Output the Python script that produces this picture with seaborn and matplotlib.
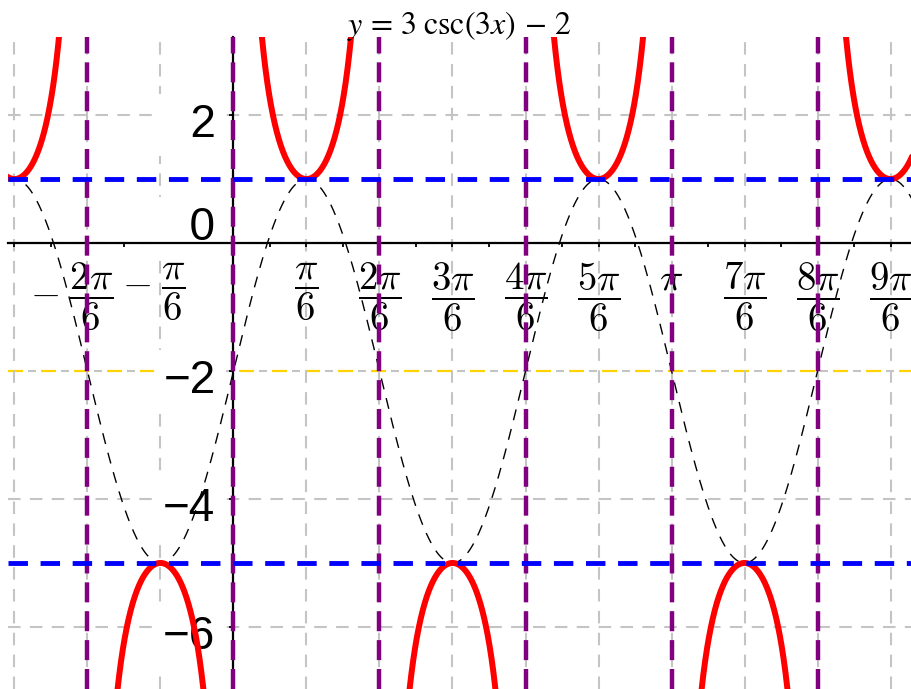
import numpy as np
import pandas as pd
import matplotlib
matplotlib.use("Agg")
import matplotlib.pyplot as plt
from matplotlib.transforms import ScaledTranslation
import seaborn as sns

# y = A * csc(B * x) + D
A = 3
B = 3
D = -2

# visible window
x_min, x_max = -1.617, 4.859
y_min, y_max = -6.97, 3.22

# x ticks in multiples of pi/6
x_tick_steps = [-3, -2, -1, 0, 1, 2, 3, 4, 5, 6, 7, 8, 9]
x_tick_labels = ["", r"$-\;\dfrac{2\pi}{6}$", r"$-\;\dfrac{\pi}{6}$", "",
                 r"$\dfrac{\pi}{6}$", r"$\dfrac{2\pi}{6}$", r"$\dfrac{3\pi}{6}$",
                 r"$\dfrac{4\pi}{6}$", r"$\dfrac{5\pi}{6}$", r"$\pi$",
                 r"$\dfrac{7\pi}{6}$", r"$\dfrac{8\pi}{6}$", r"$\dfrac{9\pi}{6}$"]
x_minor_steps = list(range(-6, 19))  # multiples of pi/12

y_ticks = [-6, -4, -2, 0, 2]
y_tick_labels = ["\u22126", "\u22124", "\u22122", "\u20070", "\u20072"]

# vertical asymptotes of csc(Bx): x = k*pi/B
asymptote_steps = [-1, 0, 1, 2, 3, 4]

# ---------------------------------------------------------------- data
branches = []
for k in range(-2, 6):
    lo = max(k * np.pi / B, x_min - 0.02)
    hi = min((k + 1) * np.pi / B, x_max + 0.02)
    if hi <= lo:
        continue
    xs = np.linspace(lo, hi, 800)[1:-1]
    ys = A / np.sin(B * xs) + D
    keep = np.abs(ys - D) < 14
    branches.append(pd.DataFrame({"x": xs[keep], "y": ys[keep], "branch": k}))
csc_df = pd.concat(branches, ignore_index=True)

xs_sin = np.linspace(x_min - 0.02, x_max + 0.02, 1200)
sin_df = pd.DataFrame({"x": xs_sin, "y": A * np.sin(B * xs_sin) + D})

# ---------------------------------------------------------------- figure
sns.set_theme(style="white")
plt.rcParams["font.family"] = ["Liberation Sans", "DejaVu Sans"]
plt.rcParams["axes.unicode_minus"] = True

fig = plt.figure(figsize=(9.11, 6.89), dpi=100)
ax = fig.add_axes([8 / 911, 0, 903 / 911, 652 / 689])
ax.set_axisbelow(True)

# midline y = D, beneath the grid and its labels
ax.axhline(D, color="#ffd400", linewidth=1.6, linestyle=(0, (6.75, 8.1)),
           zorder=0.45)

# reference sine curve
sns.lineplot(data=sin_df, x="x", y="y", color="black", linewidth=1.0,
             linestyle=(0, (8, 6.5)), estimator=None, errorbar=None,
             sort=False, ax=ax, zorder=2)

# cosecant branches
sns.lineplot(data=csc_df, x="x", y="y", units="branch", estimator=None,
             errorbar=None, color="#ff0000", linewidth=4.3, sort=False,
             ax=ax, zorder=2.2, legend=False)

# asymptotes
for k in asymptote_steps:
    ax.axvline(k * np.pi / B, color="#800080", linewidth=3.2,
               linestyle=(0, (4.5, 2.0)), zorder=3)

# max / min levels of the sine curve
for level in (D + A, D - A):
    ax.axhline(level, color="#0000ff", linewidth=3.5,
               linestyle=(0, (4.0, 2.6)), zorder=3.2)

ax.set_xlabel("")
ax.set_ylabel("")

# axes through the origin
for side in ("top", "right"):
    ax.spines[side].set_visible(False)
ax.spines["left"].set_position(("data", 0))
ax.spines["bottom"].set_position(("data", 0))
for side in ("left", "bottom"):
    ax.spines[side].set_color("black")
    ax.spines[side].set_linewidth(1.6)

ax.set_xticks([k * np.pi / 6 for k in x_tick_steps])
ax.set_xticklabels(x_tick_labels)
ax.set_xticks([k * np.pi / 12 for k in x_minor_steps], minor=True)
ax.set_yticks(y_ticks)
ax.set_yticklabels(y_tick_labels)
ax.set_xlim(x_min, x_max)
ax.set_ylim(y_min, y_max)

ax.tick_params(axis="x", which="both", direction="out", length=3, width=1.3,
               color="black", bottom=True, pad=10, labelsize=28,
               labelcolor="black")
ax.tick_params(axis="y", which="major", direction="out", length=3, width=1.3,
               color="black", left=True, pad=10, labelsize=33,
               labelcolor="black")

ax.grid(True, which="major", color="#c4c4c4", linewidth=1.5,
        linestyle=(0, (6.0, 4.5)))
ax.grid(False, which="minor")

# the grid line on the midline is interleaved with the yellow dashes
for val, gl in zip(y_ticks, ax.yaxis.get_gridlines()):
    if val == D:
        gl.set_linestyle((6.24, (3.84, 12.0)))

x_shift = {1: -16, 2: -7}
for i, lbl in enumerate(ax.get_xticklabels()):
    lbl.set_math_fontfamily("cm")
    dx = x_shift.get(i, 0)
    if dx:
        lbl.set_transform(lbl.get_transform()
                          + ScaledTranslation(dx / 100, 0, fig.dpi_scale_trans))

ybox = dict(boxstyle="square,pad=0.2", facecolor="white", edgecolor="none")
for val, lbl in zip(y_ticks, ax.get_yticklabels()):
    lbl.set_bbox(ybox)
    dy = 20 if val == 0 else -5
    lbl.set_transform(lbl.get_transform()
                      + ScaledTranslation(0, dy / 100, fig.dpi_scale_trans))

ax.set_title(r"$y\,=\,3\;\csc(3x)\,-\,2$", fontsize=23, y=1.0, pad=2.5,
             math_fontfamily="stix", color="black")

fig.savefig("out.png", dpi=100)
